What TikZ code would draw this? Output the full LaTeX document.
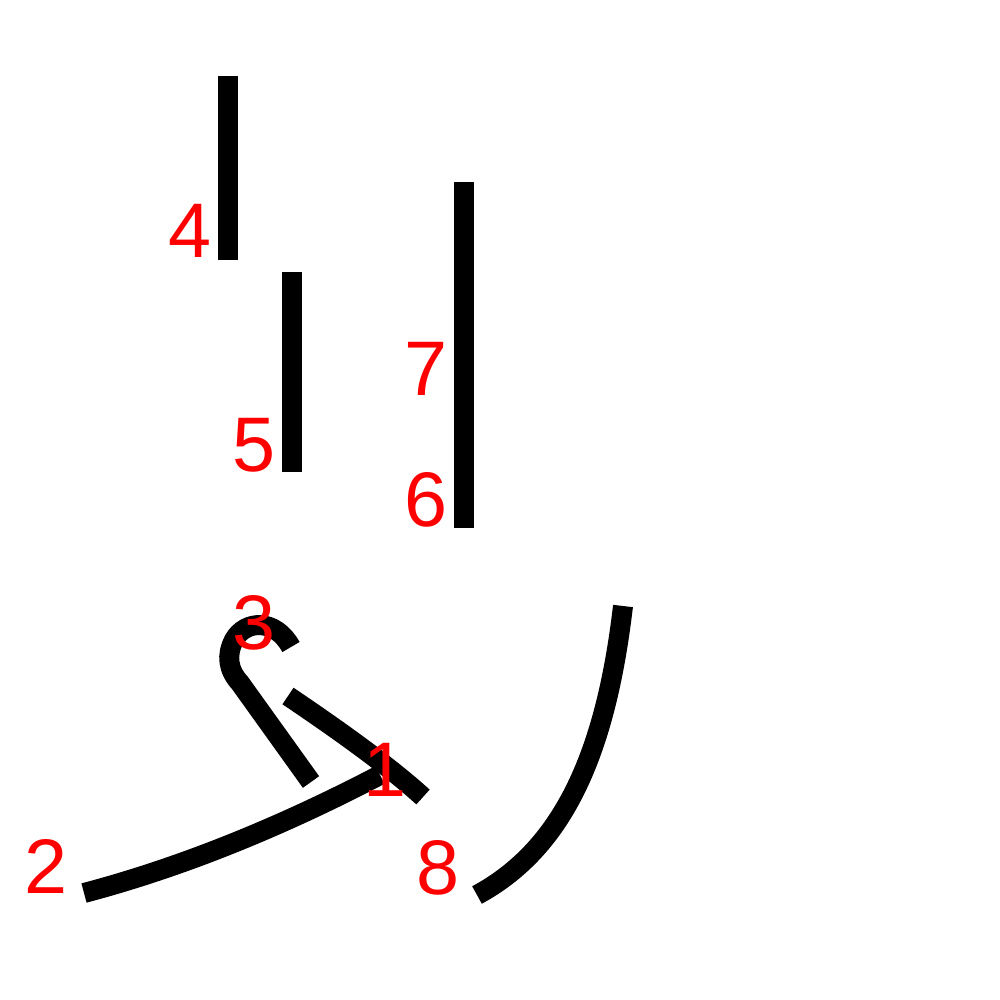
\documentclass[tikz,border=0pt]{standalone}
\usepackage{fontspec}
\setmainfont{Liberation Sans}
\usepackage{tikz}

\begin{document}
\begin{tikzpicture}[x=0.01cm,y=-0.01cm,
    stroke/.style={line width=5.67pt,line cap=butt},
    num/.style={text=red,inner sep=0pt,font=\fontsize{22}{22}\selectfont}]
    \useasboundingbox (0,0) rectangle (1000,1000);
    \begin{scope}
      \draw[stroke] (380,775) .. controls (290,822) and (190,865) .. (84,893);
      \draw[stroke] (288,696) .. controls (340,731) and (390,767) .. (423,797);
      \draw[stroke] (291,647) .. controls (275,618) and (245,620) .. (234,640)
                    .. controls (226,655) and (228,670) .. (240,683) -- (311,782);
      \draw[stroke] (228,76) -- (228,260);
      \draw[stroke] (292,272) -- (292,472);
      \draw[stroke] (464,182) -- (464,528);
      \draw[stroke] (623,606) .. controls (605,760) and (560,850) .. (477,895);
      \node[num] (n1) at (385,770) {1};
      \node[num] (n2) at (46,866) {2};
      \node[num] (n3) at (254,623) {3};
      \node[num] (n4) at (190,231) {4};
      \node[num] (n5) at (254,445) {5};
      \node[num] (n6) at (426,500) {6};
      \node[num] (n7) at (426,369) {7};
      \node[num] (n8) at (438,868) {8};
    \end{scope}
  \end{tikzpicture}
\end{document}
